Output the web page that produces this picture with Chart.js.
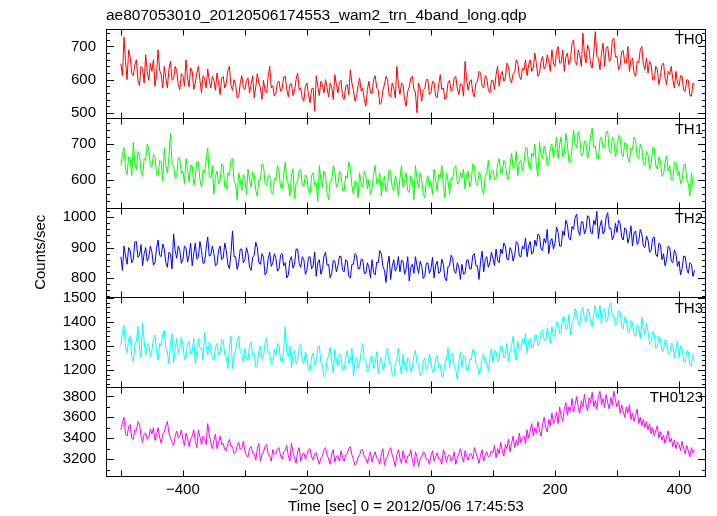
<!DOCTYPE html>
<html>
<head>
<meta charset="utf-8">
<script src="https://cdn.jsdelivr.net/npm/chart.js@4.4.1/dist/chart.umd.min.js"></script>
<style>
  html, body { margin: 0; padding: 0; background: #fff; }
</style>
</head>
<body>
<canvas id="lc" width="717" height="516"></canvas>
<script>
// time bins [sec], 0 = 2012/05/06 17:45:53
const times = [
  -500,-497.5,-495,-492.5,-490,-487.5,-485,-482.5,-480,-477.5,-475,-472.5,-470,-467.5,-465,-462.5,-460,-457.5,-455,-452.5,
  -450,-447.5,-445,-442.5,-440,-437.5,-435,-432.5,-430,-427.5,-425,-422.5,-420,-417.5,-415,-412.5,-410,-407.5,-405,-402.5,
  -400,-397.5,-395,-392.5,-390,-387.5,-385,-382.5,-380,-377.5,-375,-372.5,-370,-367.5,-365,-362.5,-360,-357.5,-355,-352.5,
  -350,-347.5,-345,-342.5,-340,-337.5,-335,-332.5,-330,-327.5,-325,-322.5,-320,-317.5,-315,-312.5,-310,-307.5,-305,-302.5,
  -300,-297.5,-295,-292.5,-290,-287.5,-285,-282.5,-280,-277.5,-275,-272.5,-270,-267.5,-265,-262.5,-260,-257.5,-255,-252.5,
  -250,-247.5,-245,-242.5,-240,-237.5,-235,-232.5,-230,-227.5,-225,-222.5,-220,-217.5,-215,-212.5,-210,-207.5,-205,-202.5,
  -200,-197.5,-195,-192.5,-190,-187.5,-185,-182.5,-180,-177.5,-175,-172.5,-170,-167.5,-165,-162.5,-160,-157.5,-155,-152.5,
  -150,-147.5,-145,-142.5,-140,-137.5,-135,-132.5,-130,-127.5,-125,-122.5,-120,-117.5,-115,-112.5,-110,-107.5,-105,-102.5,
  -100,-97.5,-95,-92.5,-90,-87.5,-85,-82.5,-80,-77.5,-75,-72.5,-70,-67.5,-65,-62.5,-60,-57.5,-55,-52.5,
  -50,-47.5,-45,-42.5,-40,-37.5,-35,-32.5,-30,-27.5,-25,-22.5,-20,-17.5,-15,-12.5,-10,-7.5,-5,-2.5,
  0,2.5,5,7.5,10,12.5,15,17.5,20,22.5,25,27.5,30,32.5,35,37.5,40,42.5,45,47.5,
  50,52.5,55,57.5,60,62.5,65,67.5,70,72.5,75,77.5,80,82.5,85,87.5,90,92.5,95,97.5,
  100,102.5,105,107.5,110,112.5,115,117.5,120,122.5,125,127.5,130,132.5,135,137.5,140,142.5,145,147.5,
  150,152.5,155,157.5,160,162.5,165,167.5,170,172.5,175,177.5,180,182.5,185,187.5,190,192.5,195,197.5,
  200,202.5,205,207.5,210,212.5,215,217.5,220,222.5,225,227.5,230,232.5,235,237.5,240,242.5,245,247.5,
  250,252.5,255,257.5,260,262.5,265,267.5,270,272.5,275,277.5,280,282.5,285,287.5,290,292.5,295,297.5,
  300,302.5,305,307.5,310,312.5,315,317.5,320,322.5,325,327.5,330,332.5,335,337.5,340,342.5,345,347.5,
  350,352.5,355,357.5,360,362.5,365,367.5,370,372.5,375,377.5,380,382.5,385,387.5,390,392.5,395,397.5,
  400,402.5,405,407.5,410,412.5,415,417.5,420,422.5,425
];

// count rates per band [counts/sec]
const th0 = [
  648,612,728,655,600,690,668,618,612,645,660,598,582,640,634,590,675,622,598,650,
  625,660,580,615,690,628,615,575,640,605,575,632,655,598,602,640,628,585,570,618,
  612,580,660,605,578,635,625,570,590,620,640,598,560,612,605,575,632,598,575,610,
  598,568,620,590,555,605,610,575,590,628,640,582,568,600,585,545,548,590,612,575,
  570,598,605,560,585,612,545,578,618,590,575,540,598,565,560,610,640,575,582,550,
  560,592,595,565,572,608,610,570,548,585,588,552,565,600,620,568,575,545,535,580,
  590,555,530,572,575,505,612,580,552,595,585,560,600,575,548,590,578,540,615,585,
  560,592,598,548,540,580,585,555,630,590,568,535,550,582,605,565,575,540,520,570,
  595,560,558,600,612,575,570,525,530,568,585,610,600,555,548,590,575,545,640,585,
  555,590,585,540,520,565,578,605,610,570,560,500,590,575,535,568,572,600,600,555,
  560,595,592,550,545,585,615,570,575,540,548,590,598,565,570,605,610,572,555,588,
  585,550,655,600,568,595,600,560,548,590,595,625,620,580,575,612,605,570,560,598,
  598,570,615,640,580,612,625,595,605,650,640,602,590,618,622,660,650,610,600,635,
  628,660,612,645,660,625,635,680,648,610,618,655,670,632,640,675,655,625,690,650,
  640,685,700,650,652,690,625,668,680,645,660,710,720,655,645,690,672,640,740,675,
  650,705,690,645,635,680,745,670,665,630,680,710,640,695,700,655,662,720,725,668,
  670,630,640,685,688,650,650,700,625,660,665,618,610,655,650,690,700,645,630,665,
  620,655,645,600,598,640,630,585,610,645,650,605,585,625,615,640,600,575,625,590,
  580,612,610,568,565,600,598,552,550,590,585
];
const th1 = [
  640,672,690,628,615,665,660,612,705,650,628,680,672,625,610,660,655,700,690,640,
  635,672,665,615,612,655,650,598,690,640,620,665,730,645,640,605,612,662,660,618,
  625,590,660,630,595,642,640,585,608,650,652,600,580,628,620,655,690,610,605,640,
  560,610,625,590,598,645,640,580,575,620,612,655,660,598,590,545,620,600,570,615,
  605,560,630,598,580,622,615,570,555,600,600,645,640,590,585,612,612,565,560,605,
  600,640,625,580,575,612,650,598,590,555,610,632,548,590,598,625,630,585,582,615,
  605,570,560,612,620,585,592,540,640,600,578,625,610,565,545,598,598,640,625,580,
  590,625,615,570,570,612,605,650,632,585,560,598,595,550,620,590,580,625,612,575,
  600,560,575,618,640,590,592,620,555,598,610,568,585,630,625,580,570,612,598,555,
  605,640,580,598,620,570,565,612,600,545,640,605,578,620,602,560,550,595,612,578,
  595,560,630,600,570,615,608,640,585,550,620,598,560,605,600,635,640,590,590,620,
  605,630,575,618,625,580,598,645,640,590,585,622,615,575,560,610,620,655,600,625,
  628,600,605,645,660,618,620,655,645,610,600,640,675,632,635,680,612,650,655,625,
  650,690,690,640,630,675,665,700,640,610,705,672,660,695,680,640,645,690,700,662,
  685,720,660,700,720,665,675,730,700,650,650,690,740,702,690,735,715,668,670,710,
  705,660,680,725,745,690,695,660,660,712,720,690,690,735,735,680,675,720,710,665,
  690,725,720,672,665,705,700,660,650,690,685,720,710,665,660,700,690,645,640,680,
  670,630,645,690,690,640,630,665,655,610,615,650,668,625,640,600,600,650,650,612,
  625,590,600,640,645,602,590,555,620,585,580
];
const th2 = [
  870,825,905,872,845,900,890,850,860,918,920,868,875,910,840,880,900,855,868,905,
  885,842,850,898,925,875,870,912,895,850,835,885,880,830,945,890,865,905,890,848,
  860,905,900,852,875,915,840,880,915,862,870,920,890,848,850,898,935,872,875,905,
  880,840,845,892,905,860,865,915,890,845,830,882,955,870,870,828,850,895,895,850,
  860,900,880,835,825,868,875,918,900,850,845,880,868,810,820,862,885,838,850,880,
  865,822,830,875,880,840,850,800,810,858,870,832,845,895,895,848,835,870,860,812,
  825,868,870,830,840,885,805,850,860,812,830,872,885,842,845,800,815,858,855,820,
  840,872,870,825,820,860,855,805,800,845,845,880,875,830,830,862,860,815,815,850,
  835,800,860,818,810,852,850,890,880,838,825,785,845,872,795,838,860,822,835,870,
  820,858,855,812,830,870,790,835,845,815,870,840,815,855,840,798,805,848,850,815,
  830,868,800,842,855,815,820,862,845,800,790,838,840,875,865,822,815,850,835,795,
  845,812,815,858,860,830,830,875,880,840,840,795,855,888,820,860,870,835,850,885,
  865,840,895,858,850,895,880,915,905,862,860,900,890,855,875,920,915,872,870,905,
  895,932,870,905,920,878,885,925,905,945,940,895,890,930,915,960,880,920,930,895,
  915,968,950,905,905,955,940,990,975,930,925,970,960,1000,1010,955,940,985,985,945,
  960,1005,1000,950,945,990,975,1020,930,970,990,945,955,1000,1015,962,965,925,940,980,
  950,990,980,935,925,965,960,915,935,972,905,948,955,910,920,960,945,905,900,938,
  925,885,890,930,935,878,870,915,910,860,880,840,860,905,900,855,850,892,880,838,
  855,810,830,872,870,830,815,850,845,805,825
];
const th3 = [
  1300,1360,1385,1295,1270,1330,1340,1250,1235,1300,1320,1380,1290,1250,1395,1320,1260,1305,1310,1255,
  1280,1330,1345,1275,1240,1310,1300,1350,1365,1290,1270,1225,1310,1350,1230,1285,1330,1270,1285,1335,
  1305,1245,1250,1310,1320,1265,1275,1330,1225,1280,1330,1290,1290,1240,1355,1300,1260,1315,1300,1245,
  1240,1295,1310,1260,1275,1325,1320,1265,1250,1205,1295,1340,1205,1260,1280,1320,1340,1275,1265,1230,
  1290,1245,1240,1300,1315,1260,1265,1210,1220,1280,1300,1245,1255,1310,1330,1270,1270,1220,1225,1285,
  1260,1310,1300,1240,1230,1285,1380,1270,1255,1300,1210,1265,1280,1225,1240,1295,1305,1240,1225,1275,
  1250,1200,1195,1255,1270,1220,1235,1290,1300,1230,1220,1170,1180,1240,1260,1295,1230,1185,1285,1240,
  1215,1265,1255,1200,1200,1250,1280,1225,1240,1290,1175,1230,1250,1205,1225,1275,1310,1240,1235,1190,
  1200,1250,1260,1205,1225,1275,1185,1230,1250,1200,1215,1265,1290,1225,1230,1180,1170,1225,1245,1290,
  1220,1180,1265,1225,1195,1250,1240,1190,1210,1260,1280,1225,1225,1175,1180,1235,1250,1200,1215,1265,
  1235,1190,1190,1245,1260,1210,1220,1170,1175,1230,1245,1290,1210,1255,1270,1215,1200,1160,1230,1275,
  1210,1260,1255,1200,1195,1245,1240,1285,1280,1225,1220,1180,1200,1250,1265,1225,1235,1195,1250,1290,
  1230,1280,1275,1235,1245,1300,1295,1250,1260,1310,1235,1275,1300,1340,1270,1240,1320,1280,1285,1330,
  1305,1350,1270,1320,1330,1290,1295,1345,1345,1300,1310,1360,1365,1325,1320,1375,1350,1310,1380,1340,
  1340,1400,1395,1350,1360,1420,1420,1370,1375,1430,1345,1395,1405,1455,1440,1390,1385,1445,1460,1410,
  1400,1455,1445,1395,1380,1430,1470,1415,1415,1470,1390,1440,1455,1400,1410,1465,1480,1425,1425,1385,
  1395,1445,1440,1380,1370,1420,1410,1360,1355,1405,1395,1345,1340,1390,1380,1330,1420,1370,1345,1395,
  1360,1305,1310,1360,1350,1290,1295,1340,1330,1275,1280,1325,1320,1265,1265,1310,1305,1250,1285,1320,
  1250,1300,1290,1235,1230,1280,1275,1220,1215,1265,1260
];
const th0123 = [
  3480,3550,3600,3440,3420,3510,3530,3400,3390,3480,3470,3560,3540,3420,3360,3440,3450,3390,3410,3490,
  3440,3500,3380,3430,3500,3410,3350,3440,3460,3520,3560,3450,3400,3360,3330,3420,3470,3400,3420,3480,
  3390,3330,3450,3400,3320,3390,3420,3480,3370,3310,3480,3410,3340,3420,3400,3340,3540,3430,3360,3300,
  3380,3440,3300,3360,3420,3340,3350,3290,3280,3350,3390,3320,3320,3250,3260,3330,3360,3290,3300,3370,
  3280,3230,3220,3300,3320,3260,3250,3190,3300,3350,3180,3240,3270,3320,3340,3250,3230,3180,3290,3250,
  3250,3300,3310,3230,3200,3270,3280,3330,3230,3180,3350,3270,3210,3160,3270,3310,3180,3240,3260,3200,
  3240,3290,3300,3220,3190,3250,3260,3200,3150,3210,3230,3290,3310,3240,3200,3150,3250,3290,3170,3230,
  3230,3180,3280,3220,3180,3240,3250,3300,3320,3240,3200,3140,3160,3220,3240,3290,3290,3220,3210,3160,
  3220,3270,3170,3230,3270,3210,3200,3150,3250,3300,3140,3200,3230,3280,3310,3240,3190,3130,3240,3290,
  3210,3160,3280,3220,3160,3230,3230,3290,3190,3130,3270,3220,3130,3200,3220,3270,3260,3200,3200,3150,
  3230,3280,3180,3220,3260,3200,3200,3150,3290,3240,3170,3230,3240,3180,3210,3270,3150,3210,3250,3300,
  3220,3170,3280,3230,3190,3250,3250,3200,3310,3260,3210,3160,3240,3290,3180,3240,3270,3220,3230,3280,
  3260,3330,3210,3300,3250,3360,3280,3230,3340,3300,3390,3270,3350,3420,3310,3380,3330,3450,3360,3400,
  3420,3350,3480,3400,3470,3540,3420,3500,3450,3560,3480,3420,3530,3600,3500,3460,3580,3520,3640,3540,
  3580,3650,3540,3700,3610,3560,3680,3740,3620,3700,3660,3780,3650,3720,3800,3690,3640,3760,3700,3820,
  3720,3660,3790,3740,3840,3700,3760,3680,3800,3850,3720,3780,3690,3820,3740,3680,3790,3720,3850,3760,
  3700,3760,3640,3720,3660,3600,3700,3640,3720,3580,3640,3560,3620,3680,3540,3600,3520,3580,3500,3560,
  3480,3540,3440,3500,3420,3470,3520,3400,3460,3380,3430,3350,3410,3470,3360,3400,3320,3380,3300,3360,
  3340,3280,3370,3300,3250,3330,3280,3220,3310,3260,3290
];

const bands = ['TH0', 'TH1', 'TH2', 'TH3', 'TH0123'];
const series = [th0, th1, th2, th3, th0123];
const colors = ['#ff0000', '#00ff00', '#0000ff', '#00ffff', '#ff00ff'];
// y range of each panel
const yMin = [484, 523, 737, 1130, 3038];
const yMax = [754, 773, 1032, 1503, 3895];
// minor tick step and labelled tick step per panel
const minorStep = [20, 20, 20, 20, 100];
const labelStep = [100, 100, 100, 100, 200];

const FONT = '"Liberation Sans", Arial, Helvetica, sans-serif';
const yIds = ['y0', 'y1', 'y2', 'y3', 'y4'];

const scales = {
  x: {
    type: 'linear',
    min: -524,
    max: 443.5,
    grid: { display: false, drawTicks: false },
    border: { display: false },
    ticks: {
      stepSize: 100,
      includeBounds: false,
      autoSkip: false,
      maxRotation: 0,
      padding: 5,
      color: '#000',
      font: { family: FONT, size: 15 },
      callback: v => v % 200 === 0 ? String(v).replace('-', '\u2212') : ''
    },
    title: {
      display: true,
      text: 'Time [sec] 0 = 2012/05/06 17:45:53',
      color: '#000',
      font: { family: FONT, size: 15 },
      padding: { top: 0, bottom: 0 }
    },
    afterFit: s => { s.height = 40; }
  }
};

// stacked axes are laid out bottom-up, so add the lowest panel first
for (let i = yIds.length - 1; i >= 0; i--) {
  scales[yIds[i]] = {
    type: 'linear',
    position: 'left',
    stack: 'panels',
    stackWeight: 1,
    min: yMin[i],
    max: yMax[i],
    grid: { display: false, drawTicks: false },
    border: { display: false },
    ticks: {
      stepSize: minorStep[i],
      includeBounds: false,
      autoSkip: false,
      padding: 10,
      color: '#000',
      font: { family: FONT, size: 15 },
      callback: v => v % labelStep[i] === 0 ? String(v) : ''
    },
    title: {
      display: i === 2,
      text: 'Counts/sec',
      color: '#000',
      font: { family: FONT, size: 15 },
      padding: { top: 0, bottom: 0 }
    },
    afterFit: s => { s.width = 74; }
  };
}

// panel frames, inward tick marks and band names
const framePlugin = {
  id: 'frames',
  afterDatasetsDraw(chart) {
    const ctx = chart.ctx;
    const area = chart.chartArea;
    const xs = chart.scales.x;
    ctx.save();
    ctx.strokeStyle = '#000';
    ctx.lineWidth = 1;
    yIds.forEach((id, i) => {
      const s = chart.scales[id];
      const top = Math.round(s.top) + 0.5;
      const bot = Math.round(s.bottom) + 0.5;
      ctx.strokeRect(Math.round(area.left) + 0.5, top, Math.round(area.right - area.left) - 1, bot - top);
      ctx.beginPath();
      s.ticks.forEach(t => {
        const y = Math.round(s.getPixelForValue(t.value)) + 0.5;
        const len = t.value % labelStep[i] === 0 ? 8 : 4;
        ctx.moveTo(area.left, y); ctx.lineTo(area.left + len, y);
        ctx.moveTo(area.right, y); ctx.lineTo(area.right - len, y);
      });
      xs.ticks.forEach(t => {
        const x = Math.round(xs.getPixelForValue(t.value)) + 0.5;
        ctx.moveTo(x, top); ctx.lineTo(x, top + 6);
        ctx.moveTo(x, bot); ctx.lineTo(x, bot - 6);
      });
      ctx.stroke();
      ctx.fillStyle = '#000';
      ctx.font = '15px ' + FONT;
      ctx.textAlign = 'right';
      ctx.textBaseline = 'top';
      ctx.fillText(bands[i], area.right - 3, s.top + 4);
    });
    ctx.restore();
  }
};

new Chart(document.getElementById('lc'), {
  type: 'line',
  data: {
    datasets: series.map((vals, i) => ({
      label: bands[i],
      data: times.map((t, k) => ({ x: t, y: vals[k] })),
      yAxisID: yIds[i],
      borderColor: colors[i],
      borderWidth: 1,
      pointRadius: 0,
      tension: 0,
      fill: false
    }))
  },
  options: {
    responsive: false,
    animation: false,
    layout: { padding: { left: 32, right: 11, top: 0, bottom: 0 } },
    scales: scales,
    plugins: {
      legend: { display: false },
      tooltip: { enabled: false },
      title: {
        display: true,
        text: 'ae807053010_20120506174553_wam2_trn_4band_long.qdp',
        align: 'start',
        fullSize: false,
        color: '#000',
        font: { family: FONT, size: 15.5, weight: 'normal' },
        padding: { top: 6, bottom: 4 }
      }
    }
  },
  plugins: [framePlugin]
});
</script>
</body>
</html>
